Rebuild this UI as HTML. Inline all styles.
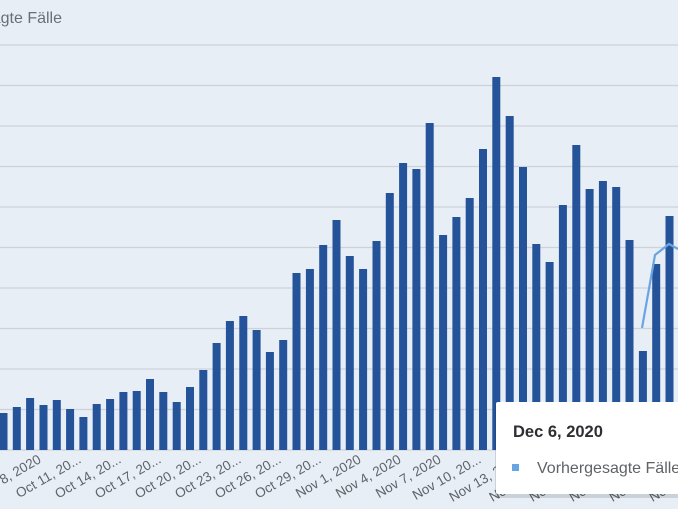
<!DOCTYPE html>
<html><head><meta charset="utf-8"><style>
html,body{margin:0;padding:0;width:678px;height:509px;overflow:hidden;background:#e8eef6;font-family:"Liberation Sans",sans-serif}
</style></head><body>
<svg id="s" width="678" height="509" xmlns="http://www.w3.org/2000/svg" style="position:absolute;left:0;top:0">
<text x="62" y="23" text-anchor="end" font-size="16" fill="#6b6f75" font-family="Liberation Sans, sans-serif">Vorhergesagte Fälle</text>
</svg>
<script>
var s=document.getElementById('s'),h='';
for(var k=0;k<11;k++){var y=45+k*40.5;h+='<line x1="0" x2="678" y1="'+y+'" y2="'+y+'" stroke="#cdd2d9" stroke-width="1.3"/>';}
var t=[413,407,398,405,400,409,417,404,399,392,391,379,392,402,387,370,343,321,316,330,352,340,273,269,245,220,256,269,241,193,163,169,123,235,217,198,149,77,116,167,244,262,205,145,189,181,187,240,351,264,216];
for(var i=0;i<t.length;i++){var x=-0.5+13.32*i;h+='<rect x="'+x.toFixed(1)+'" y="'+t[i]+'" width="8" height="'+(450-t[i])+'" fill="#245399"/>';}
h+='<polyline points="642,328 655,255 669,244 678,249" fill="none" stroke="#6aa5e3" stroke-width="2.2"/>';
var L=['Oct 8, 2020','Oct 11, 20...','Oct 14, 20...','Oct 17, 20...','Oct 20, 20...','Oct 23, 20...','Oct 26, 20...','Oct 29, 20...','Nov 1, 2020','Nov 4, 2020','Nov 7, 2020','Nov 10, 20...','Nov 13, 2020','Nov 16, 2020','Nov 19, 2020','Nov 22, 2020','Nov 25, 2020','Nov 28, 2020'];
for(var j=0;j<L.length;j++){var cx=42+40*j;h+='<text transform="translate('+cx+',462) rotate(-30)" text-anchor="end" font-size="13.5" fill="#5f6368" font-family="Liberation Sans, sans-serif">'+L[j]+'</text>';}
h+='<rect x="495" y="402" width="200" height="94" rx="2" fill="#000" opacity="0.12" transform="translate(0,2)"/>';
h+='<rect x="496" y="402" width="200" height="92" rx="2" fill="#fff"/>';
h+='<text x="513" y="437" font-size="16.5" font-weight="bold" fill="#2d2f33" font-family="Liberation Sans, sans-serif">Dec 6, 2020</text>';
h+='<rect x="512" y="464" width="7" height="7" fill="#6aa5e3"/>';
h+='<text x="537" y="473" font-size="16" fill="#5f6368" font-family="Liberation Sans, sans-serif">Vorhergesagte Fälle</text>';
s.insertAdjacentHTML('beforeend',h);
</script>
</body></html>
